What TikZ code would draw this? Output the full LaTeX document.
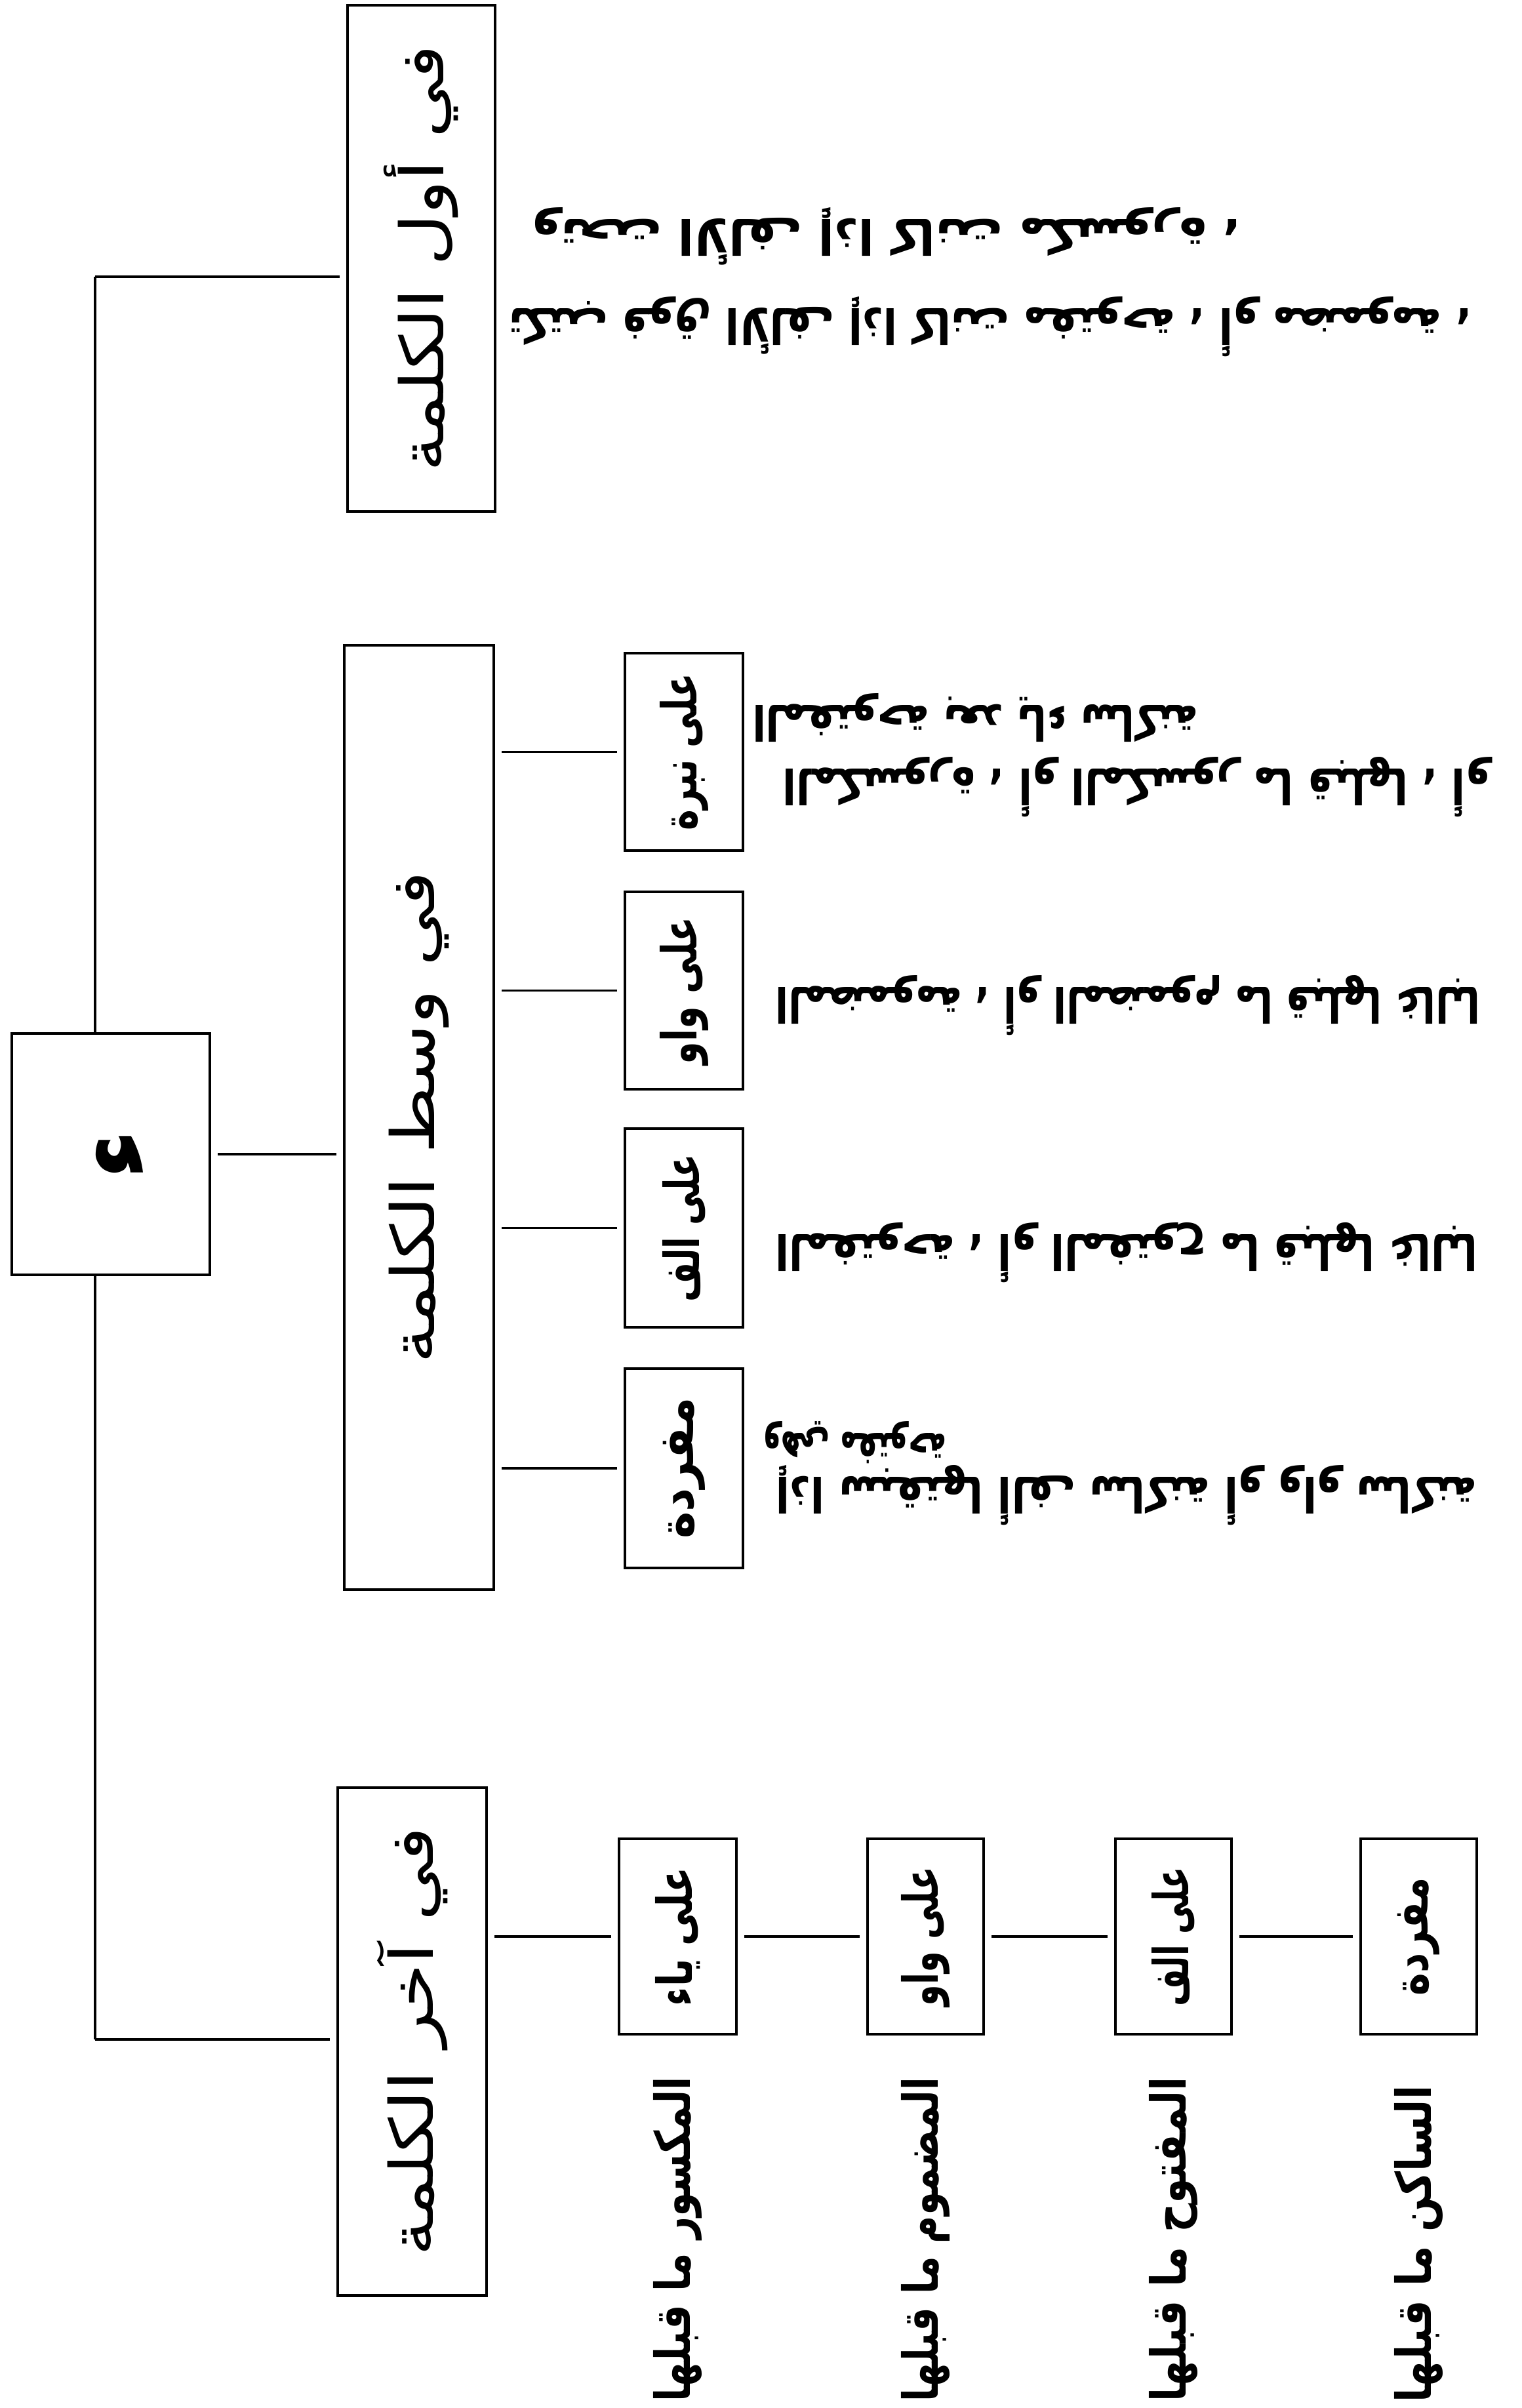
\documentclass[tikz,border=0pt]{standalone}
\usepackage{fontspec}
\usepackage{graphicx}
\newfontfamily\arabicfont[Script=Arabic]{DejaVu Sans}
\TeXXeTstate=1
\newcommand{\artxt}[2]{\resizebox{#1}{\height}{#2}}
\newcommand{\biglab}{\arabicfont\fontsize{26}{30}\selectfont}
\newcommand{\smalllab}{\arabicfont\bfseries\fontsize{21}{25}\selectfont}
\newcommand{\rowtxt}{\arabicfont\bfseries\fontsize{21}{25}\selectfont}
\begin{document}
\begin{tikzpicture}[x=1cm,y=1cm,
  bx/.style={draw, line width=1.4pt, inner sep=0pt},
  bigbox/.style={bx, font=\biglab},
  smbox/.style={bx, line width=1.3pt, font=\smalllab, minimum height=2.98cm},
  lab/.style={inner sep=0pt, font=\smalllab},
  htxt/.style={inner sep=0pt, font=\rowtxt, rotate=180},
  conn/.style={line width=1pt, shorten <=0.1cm, shorten >=0.1cm},
  trunk/.style={line width=1.1pt}]
\fill[white] (0,0) rectangle (23.2,-36.72);
\useasboundingbox (0,0) rectangle (23.2,-36.72);

% root
\node[bx, minimum width=3.02cm, minimum height=3.68cm] (root) at (1.69,-17.60) {};
\node[inner sep=0pt] (hz) at (1.84,-17.60) {\rotatebox{90}{\resizebox{0.78cm}{!}{\arabicfont\bfseries ء}}};

% level 1 boxes
\node[bigbox, minimum width=2.25cm, minimum height=7.72cm] (a1) at (6.425,-3.94)
  {\rotatebox{90}{\artxt{6.5cm}{\beginR في أول الكلمة\endR}}};
\node[bigbox, minimum width=2.28cm, minimum height=14.40cm] (a2) at (6.39,-17.04)
  {\rotatebox{90}{\artxt{7.5cm}{\beginR في وسط الكلمة\endR}}};
\node[bigbox, minimum width=2.27cm, minimum height=7.74cm] (a3) at (6.285,-31.13)
  {\rotatebox{90}{\artxt{6.54cm}{\beginR في آخر الكلمة\endR}}};

% trunk
\coordinate (tt) at (1.45,-4.22);
\coordinate (tb) at (1.45,-31.10);
\draw[trunk] (tt) -- (tt |- root.north);
\draw[trunk] (tt |- root.south) -- (tb);
\draw[conn, shorten <=0pt] (tt) -- (tt -| a1.west);
\draw[conn, shorten <=0pt] (tb) -- (tb -| a3.west);
\draw[conn] (root.east) -- (root.east -| a2.west);

% middle small boxes
\node[smbox, minimum width=1.80cm, minimum height=3.01cm] (b1) at (10.43,-11.465)
  {\rotatebox{90}{\artxt{2.39cm}{\beginR على نبرة\endR}}};
\node[smbox, minimum width=1.80cm, minimum height=3.01cm] (b2) at (10.43,-15.105)
  {\rotatebox{90}{\artxt{2.25cm}{\beginR على واو\endR}}};
\node[smbox, minimum width=1.80cm, minimum height=3.03cm] (b3) at (10.43,-18.725)
  {\rotatebox{90}{\artxt{2.25cm}{\beginR على الف\endR}}};
\node[smbox, minimum width=1.80cm, minimum height=3.04cm] (b4) at (10.43,-22.39)
  {\rotatebox{90}{\artxt{2.15cm}{\beginR مفردة\endR}}};
\foreach \b in {b1,b2,b3,b4}{\draw[conn] (\b.west -| a2.east) -- (\b.west);}

% explanatory texts (printed upside down)
\node[htxt] (t1a) at (15.10,-4.98) {\artxt{14.68cm}{\beginR تكتب فوق الألف إذا كانت مفتوحة ، أو مضمومة ،\endR}};
\node[htxt] (t1b) at (13.515,-3.60) {\artxt{10.81cm}{\beginR وتحت الألف إذا كانت مكسورة ،\endR}};
\node[htxt] (n1) at (17.335,-12.00) {\artxt{10.79cm}{\beginR المكسورة ، أو المكسور ما قبلها ، أو\endR}};
\node[htxt] (n2) at (14.87,-10.95) {\artxt{6.80cm}{\beginR المفتوحة بعد ياء ساكنة\endR}};
\node[htxt] (w1) at (17.195,-15.33) {\artxt{10.75cm}{\beginR المضمومة ، أو المضموم ما قبلها غالبا\endR}};
\node[htxt] (l1) at (17.175,-19.10) {\artxt{10.71cm}{\beginR المفتوحة ، أو المفتوح ما قبلها غالبا\endR}};
\node[htxt] (m1) at (17.175,-22.80) {\artxt{10.69cm}{\beginR إذا سبقتها ألف ساكنة أو واو ساكنة\endR}};
\node[htxt] (m2) at (13.035,-22.00) {\artxt{2.79cm}{\beginR وهي مفتوحة\endR}};

% bottom small boxes
\node[smbox, minimum width=1.79cm] (c1) at (10.335,-29.53)
  {\rotatebox{90}{\artxt{2.12cm}{\beginR على ياء\endR}}};
\node[smbox, minimum width=1.77cm] (c2) at (14.115,-29.53)
  {\rotatebox{90}{\artxt{2.12cm}{\beginR على واو\endR}}};
\node[smbox, minimum width=1.77cm] (c3) at (17.895,-29.53)
  {\rotatebox{90}{\artxt{2.12cm}{\beginR على الف\endR}}};
\node[smbox, minimum width=1.77cm] (c4) at (21.635,-29.53)
  {\rotatebox{90}{\artxt{1.80cm}{\beginR مفردة\endR}}};
\draw[conn] (c1.west -| a3.east) -- (c1.west);
\draw[conn] (c1.east) -- (c2.west);
\draw[conn] (c2.east) -- (c3.west);
\draw[conn] (c3.east) -- (c4.west);

% bottom labels
\node[lab] (d1) at (10.335,-34.15) {\rotatebox{90}{\artxt{4.95cm}{\beginR المكسور ما قبلها\endR}}};
\node[lab] (d2) at (14.115,-34.15) {\rotatebox{90}{\artxt{4.95cm}{\beginR المضموم ما قبلها\endR}}};
\node[lab] (d3) at (17.895,-34.15) {\rotatebox{90}{\artxt{4.95cm}{\beginR المفتوح ما قبلها\endR}}};
\node[lab] (d4) at (21.635,-34.22) {\rotatebox{90}{\artxt{4.83cm}{\beginR الساكن ما قبلها\endR}}};
\end{tikzpicture}
\end{document}
